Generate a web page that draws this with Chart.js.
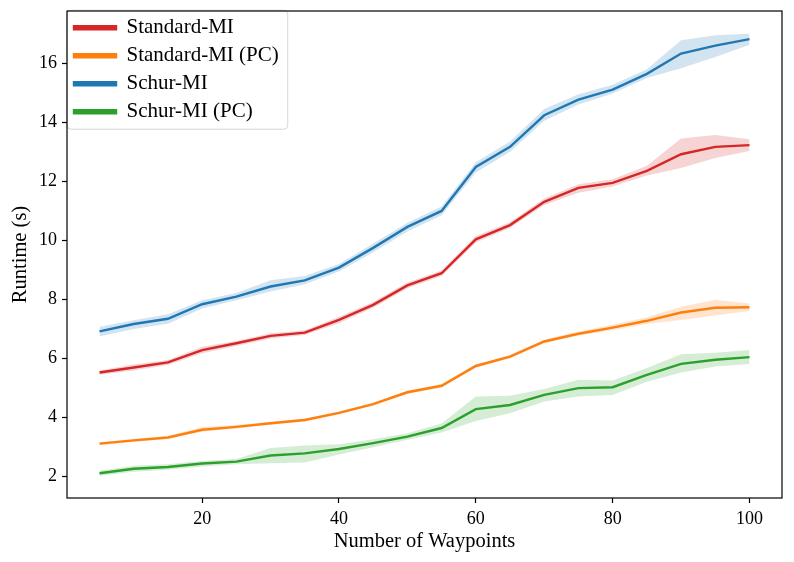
<!DOCTYPE html>
<html>
<head>
	<meta charset="UTF-8">
	<title>runtime chart</title>
	<script src="https://cdn.jsdelivr.net/npm/chart.js"></script>
	<style>
	html, body{margin:0; padding:0; background:#fff;}
	#wrap{width:794px; height:562px;}
	</style>
</head>
<body>
	<div id="wrap">
	  <canvas id="myChart"></canvas>
	</div>
	<script>
	// data
	var waypoints = [5,10,15,20,25,30,35,40,45,50,55,60,65,70,75,80,85,90,95,100];
	var xTicks = [20,40,60,80,100];
	var yTicks = [2,4,6,8,10,12,14,16];

	var standardMI    = [5.53,5.70,5.87,6.29,6.52,6.77,6.88,7.31,7.82,8.48,8.89,10.04,10.52,11.31,11.78,11.95,12.36,12.92,13.17,13.23];
	var standardMI_lo = [5.45,5.60,5.78,6.18,6.43,6.68,6.80,7.20,7.72,8.38,8.80,9.93,10.42,11.20,11.62,11.83,12.20,12.45,12.79,13.03];
	var standardMI_hi = [5.60,5.80,5.95,6.40,6.60,6.86,6.96,7.42,7.92,8.58,8.98,10.15,10.62,11.42,11.90,12.07,12.53,13.45,13.57,13.43];

	var standardPC    = [3.12,3.23,3.33,3.59,3.69,3.81,3.92,4.16,4.46,4.86,5.08,5.75,6.07,6.58,6.84,7.05,7.28,7.56,7.72,7.74];
	var standardPC_lo = [3.07,3.18,3.28,3.52,3.63,3.76,3.87,4.11,4.41,4.80,5.02,5.69,6.01,6.52,6.78,6.96,7.18,7.31,7.46,7.61];
	var standardPC_hi = [3.17,3.28,3.38,3.68,3.75,3.86,3.97,4.21,4.51,4.92,5.14,5.81,6.13,6.64,6.92,7.15,7.40,7.76,7.99,7.87];

	var schurMI    = [6.92,7.17,7.35,7.84,8.10,8.44,8.65,9.08,9.75,10.46,11.00,12.49,13.17,14.24,14.77,15.11,15.64,16.33,16.60,16.82];
	var schurMI_lo = [6.75,7.00,7.18,7.70,7.98,8.27,8.52,8.95,9.60,10.30,10.85,12.30,13.00,14.05,14.60,14.98,15.50,15.83,16.21,16.63];
	var schurMI_hi = [7.08,7.30,7.50,7.98,8.22,8.65,8.80,9.20,9.90,10.60,11.15,12.65,13.35,14.45,14.95,15.27,15.80,16.78,16.95,17.00];

	var schurPC    = [2.12,2.27,2.33,2.45,2.51,2.72,2.79,2.94,3.14,3.36,3.65,4.29,4.43,4.77,5.00,5.03,5.45,5.82,5.96,6.05];
	var schurPC_lo = [2.03,2.17,2.24,2.35,2.42,2.46,2.48,2.75,3.00,3.25,3.50,3.89,4.15,4.55,4.72,4.77,5.22,5.53,5.73,5.82];
	var schurPC_hi = [2.20,2.37,2.42,2.53,2.60,2.97,3.06,3.10,3.27,3.47,3.80,4.72,4.74,4.97,5.28,5.26,5.68,6.15,6.20,6.29];

	function pts(arr){
		return arr.map(function(v, i){ return {x: waypoints[i], y: v}; });
	}

	var series = [
		{label:'Standard-MI',      mean:standardMI, lo:standardMI_lo, hi:standardMI_hi, rgb:'214,39,40'},
		{label:'Standard-MI (PC)', mean:standardPC, lo:standardPC_lo, hi:standardPC_hi, rgb:'255,127,14'},
		{label:'Schur-MI',         mean:schurMI,    lo:schurMI_lo,    hi:schurMI_hi,    rgb:'31,119,180'},
		{label:'Schur-MI (PC)',    mean:schurPC,    lo:schurPC_lo,    hi:schurPC_hi,    rgb:'44,160,44'}
	];

	var datasets = [];
	// lines first so the legend shows them in order
	series.forEach(function(s){
		datasets.push({
			label: s.label, data: pts(s.mean),
			borderColor: 'rgb(' + s.rgb + ')', backgroundColor: 'rgb(' + s.rgb + ')',
			borderWidth: 2.4, pointRadius: 0, fill: false, tension: 0, order: 0
		});
	});
	// then the shaded bands
	series.forEach(function(s){
		datasets.push({
			label: '', data: pts(s.lo), borderWidth: 0, pointRadius: 0,
			fill: false, order: 1
		});
		datasets.push({
			label: '', data: pts(s.hi), borderWidth: 0, pointRadius: 0,
			fill: '-1', backgroundColor: 'rgba(' + s.rgb + ',0.2)', order: 1
		});
	});

	var serif = '"Liberation Serif", "DejaVu Serif", serif';

	// legend frame + axes box
	var framePlugin = {
		id: 'frame',
		beforeDraw: function(chart){
			var lg = chart.legend;
			if (!lg || !lg.legendHitBoxes || !lg.legendHitBoxes.length) return;
			var hb = lg.legendHitBoxes;
			var l = 1e9, t = 1e9, r = -1e9, b = -1e9;
			hb.forEach(function(h){
				l = Math.min(l, h.left); t = Math.min(t, h.top);
				r = Math.max(r, h.left + h.width); b = Math.max(b, h.top + h.height);
			});
			var ctx = chart.ctx;
			ctx.save();
			ctx.beginPath();
			ctx.roundRect(l - 7, t - 7, (r - l) + 16, (b - t) + 14, 4);
			ctx.fillStyle = 'rgba(255,255,255,0.8)';
			ctx.fill();
			ctx.strokeStyle = 'rgba(204,204,204,0.8)';
			ctx.lineWidth = 1;
			ctx.stroke();
			ctx.restore();
		},
		afterDraw: function(chart){
			var a = chart.chartArea, ctx = chart.ctx;
			ctx.save();
			ctx.strokeStyle = '#000';
			ctx.lineWidth = 1.2;
			ctx.strokeRect(a.left, a.top, a.right - a.left, a.bottom - a.top);
			ctx.restore();
		}
	};

	const ctx = document.getElementById('myChart');
	new Chart(ctx, {
		type: 'line',
		data: { datasets: datasets },
		plugins: [framePlugin],
		options: {
			responsive: true,
			maintainAspectRatio: false,
			animation: false,
			layout: { padding: { top: 11, right: 12, left: 8, bottom: 8 } },
			plugins: {
				tooltip: { enabled: false },
				legend: {
					position: 'chartArea',
					align: 'start',
					title: { display: true, text: '', padding: { top: 5, bottom: 4 }, font: { size: 1 } },
					labels: {
						filter: function(item){ return item.text !== ''; },
						boxWidth: 42,
						boxHeight: 3,
						padding: 7,
						color: '#000',
						font: { family: serif, size: 21 }
					}
				}
			},
			scales: {
				x: {
					type: 'linear',
					min: 0.25,
					max: 104.75,
					afterBuildTicks: function(axis){
						axis.ticks = xTicks.map(function(v){ return {value: v}; });
					},
					afterFit: function(axis){ axis.height = 56; axis.paddingLeft = 0; axis.paddingRight = 0; },
					grid: { drawOnChartArea: false, tickLength: 5, color: '#000', tickWidth: 1.2 },
					border: { display: false },
					ticks: { color: '#000', padding: 5, maxRotation: 0, font: { family: serif, size: 18 } },
					title: { display: true, text: 'Number of Waypoints', color: '#000', padding: { top: 0, bottom: 0 }, font: { family: serif, size: 20.5 } }
				},
				y: {
					type: 'linear',
					min: 1.28,
					max: 17.77,
					afterBuildTicks: function(axis){
						axis.ticks = yTicks.map(function(v){ return {value: v}; });
					},
					afterFit: function(axis){ axis.width = 59; axis.paddingTop = 0; axis.paddingBottom = 0; },
					grid: { drawOnChartArea: false, tickLength: 5, color: '#000', tickWidth: 1.2 },
					border: { display: false },
					ticks: { color: '#000', padding: 5, font: { family: serif, size: 18 } },
					title: { display: true, text: 'Runtime (s)', color: '#000', padding: { top: 0, bottom: 4 }, font: { family: serif, size: 20.5 } }
				}
			}
		}
	});
	</script>
</body>
</html>
